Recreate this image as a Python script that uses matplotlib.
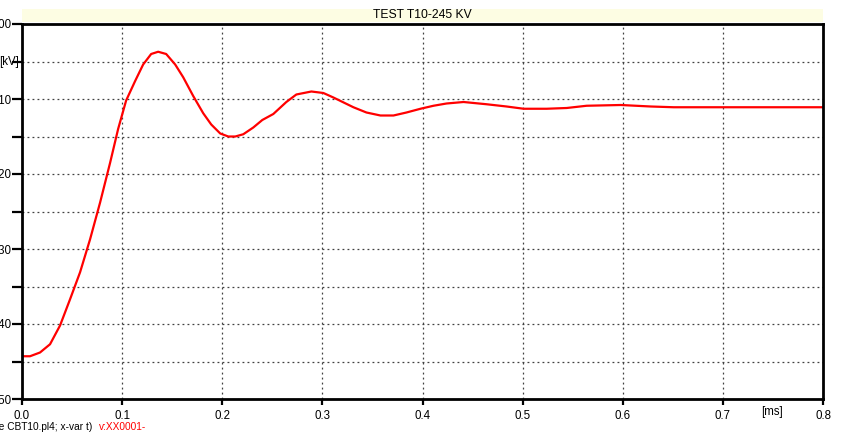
import numpy as np
import matplotlib.pyplot as plt
from matplotlib.patches import Rectangle

plt.rcParams['font.family'] = ['Liberation Sans', 'DejaVu Sans']

title = 'TEST T10-245 KV'

# time [ms] and voltage [kV] of v:XX0001-
t_ms = [0.000, 0.008, 0.018, 0.028, 0.038, 0.048, 0.058, 0.068, 0.078, 0.088,
        0.096, 0.104, 0.113, 0.121, 0.129, 0.136, 0.144, 0.153, 0.161, 0.171,
        0.181, 0.189, 0.198, 0.206, 0.213, 0.221, 0.231, 0.240, 0.251, 0.264,
        0.274, 0.289, 0.301, 0.311, 0.331, 0.344, 0.358, 0.371, 0.384, 0.398,
        0.411, 0.424, 0.441, 0.464, 0.484, 0.501, 0.524, 0.544, 0.564, 0.598,
        0.628, 0.651, 0.711, 0.800]
v_kv = [-144.3, -144.3, -143.8, -142.7, -140.2, -136.7, -133.1, -128.7, -123.8, -118.5,
        -114.0, -110.2, -107.6, -105.4, -104.0, -103.7, -104.0, -105.4, -107.1, -109.6,
        -111.9, -113.4, -114.6, -115.0, -115.0, -114.7, -113.8, -112.8, -112.0, -110.4,
        -109.4, -109.0, -109.2, -109.8, -111.1, -111.8, -112.2, -112.2, -111.8, -111.3,
        -110.9, -110.6, -110.4, -110.7, -111.0, -111.3, -111.3, -111.2, -110.9, -110.8,
        -111.0, -111.1, -111.1, -111.1]

x_ticks = np.arange(0, 0.81, 0.1)
y_major = np.arange(-150, -99, 10)
y_minor = np.arange(-145, -100, 10)

fig = plt.figure(figsize=(8.41, 4.32), dpi=100)
ax = fig.add_axes([22 / 841, 1 - 399 / 432, 801 / 841, 375 / 432])

ax.plot(t_ms, v_kv, color='#ff0000', lw=1.6, solid_joinstyle='round',
        solid_capstyle='round')

ax.set_xlim(0, 0.8)
ax.set_ylim(-150, -100)
ax.set_xticks(x_ticks)
ax.set_xticklabels(['%.1f' % v for v in x_ticks])
ax.set_yticks(y_major)
ax.set_yticklabels(['%d' % v for v in y_major])
ax.set_yticks(y_minor, minor=True)
ax.tick_params(axis='both', which='both', direction='out', width=1.6,
               colors='black', labelsize=8.3)
ax.tick_params(axis='y', which='both', length=7.2, pad=0.5)
ax.tick_params(axis='x', which='major', length=4.5, pad=3.5)

for s in ax.spines.values():
    s.set_linewidth(2)
    s.set_color('black')

ax.grid(True, which='both', axis='y', ls=(0, (1.5, 2.5)), color='#404040', lw=0.9)
ax.grid(True, which='major', axis='x', ls=(0, (1.5, 2.5)), color='#404040', lw=0.9)

# units next to the axes
fig.text(18.5 / 841, 1 - 61.5 / 432, '[kV]', ha='right', va='center', fontsize=8.3)
fig.text(772 / 841, 1 - 412 / 432, '[ms]', ha='center', va='center', fontsize=8.3)

# title band
fig.patches.append(Rectangle((22 / 841, 1 - 22 / 432), 801 / 841, 13 / 432,
                             transform=fig.transFigure, facecolor='#fdfde3',
                             edgecolor='none', zorder=0))
fig.text(422 / 841, 1 - 15.5 / 432, title, ha='center', va='center', fontsize=8.7)

# footer: source file and variable
fig.text(92 / 841, 1 - 426.5 / 432, '(file CBT10.pl4; x-var t)', ha='right',
         va='center', fontsize=7.3)
fig.text(99 / 841, 1 - 426.5 / 432, 'v:XX0001-', ha='left', va='center',
         fontsize=7.3, color='#ff0000')

fig.savefig('out.png', dpi=100)
